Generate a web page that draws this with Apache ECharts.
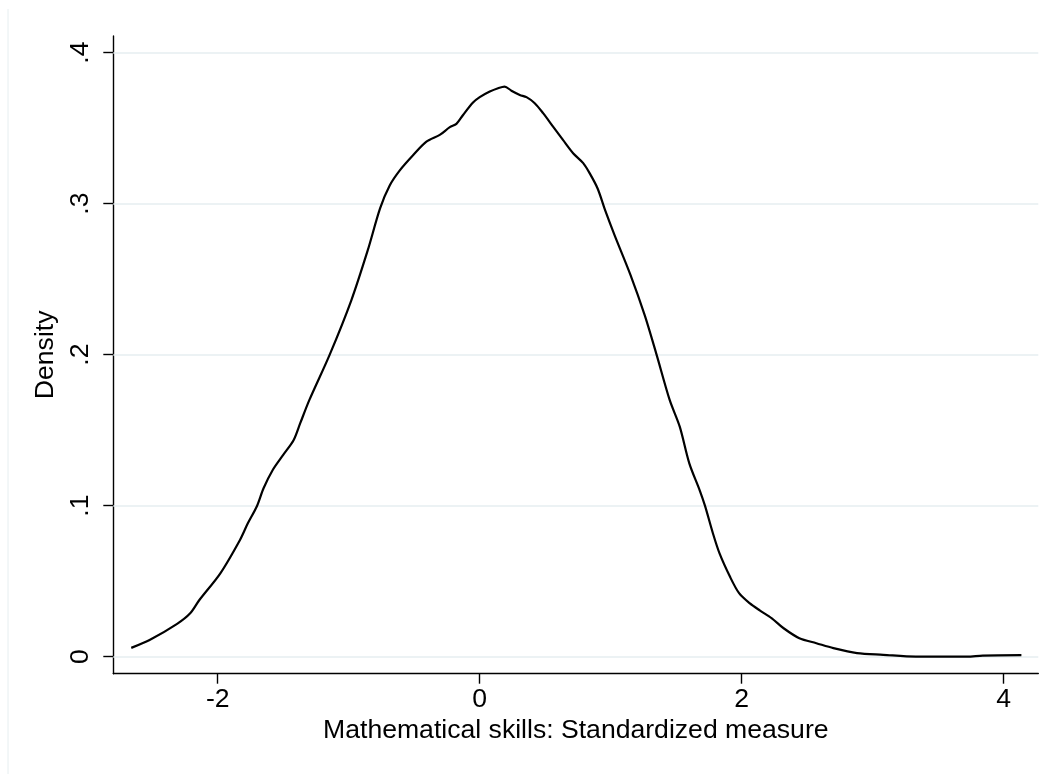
<!DOCTYPE html>
<html>
<head>
<meta charset="utf-8">
<script src="https://cdn.jsdelivr.net/npm/echarts@6/dist/echarts.min.js"></script>
<style>
html,body{margin:0;padding:0;background:#fff;}
#chart{width:1053px;height:774px;}
</style>
</head>
<body>
<div id="chart"></div>
<script>
const xValues = [-2.66,-2.52,-2.31,-2.21,-2.14,-1.98,-1.83,-1.77,-1.70,-1.65,-1.58,-1.50,-1.42,-1.37,-1.30,-1.145,-0.98,-0.855,-0.76,-0.687,-0.61,-0.509,-0.407,-0.305,-0.228,-0.178,-0.127,-0.051,0.0,0.077,0.14,0.19,0.242,0.306,0.357,0.42,0.484,0.56,0.637,0.713,0.79,0.84,0.90,0.96,1.03,1.15,1.26,1.35,1.45,1.527,1.60,1.68,1.72,1.78,1.83,1.91,1.98,2.06,2.14,2.23,2.32,2.44,2.57,2.70,2.88,3.08,3.33,3.72,3.84,4.135];
const densityValues = [0.0058,0.011,0.0217,0.0287,0.0375,0.0552,0.0773,0.0883,0.0998,0.1115,0.1236,0.1336,0.1435,0.1546,0.170,0.200,0.236,0.269,0.297,0.312,0.322,0.332,0.341,0.3455,0.3506,0.3528,0.3587,0.3669,0.3705,0.3742,0.3764,0.3775,0.3748,0.372,0.3705,0.3665,0.3599,0.351,0.342,0.3334,0.3268,0.320,0.310,0.295,0.279,0.253,0.226,0.200,0.170,0.1523,0.128,0.110,0.0998,0.0817,0.0685,0.053,0.042,0.0354,0.0305,0.0254,0.0188,0.0122,0.0089,0.0056,0.0023,0.0012,0.0,0.0,0.0007,0.001];
const xTickValues = [-2, 0, 2, 4];
const xTickLabels = ['-2', '0', '2', '4'];
const yTickValues = [0, 0.1, 0.2, 0.3, 0.4];
const yTickLabels = ['0', '.1', '.2', '.3', '.4'];
const xTitle = 'Mathematical skills: Standardized measure';
const yTitle = 'Density';

const chart = echarts.init(document.getElementById('chart'));
const FONT = 'Liberation Sans, Arial, sans-serif';
const data = xValues.map((x, i) => [x, densityValues[i]]);

chart.setOption({
  animation: false,
  backgroundColor: '#ffffff',
  grid: { left: 113.3, right: 14.7, top: 36, bottom: 100.3, containLabel: false },
  xAxis: {
    type: 'value',
    min: -2.797, max: 4.264,
    name: xTitle,
    nameLocation: 'middle',
    nameGap: 41,
    nameTextStyle: { fontFamily: FONT, fontSize: 26.6, color: '#000' },
    axisLine: { show: true, onZero: false, lineStyle: { color: '#000', width: 1.4 } },
    axisTick: { show: true, length: 10, customValues: xTickValues, lineStyle: { color: '#000', width: 1.4 } },
    axisLabel: {
      customValues: xTickValues,
      formatter: v => xTickLabels[xTickValues.indexOf(v)] ?? '',
      fontFamily: FONT, fontSize: 26.6, color: '#000', margin: 12
    },
    splitLine: { show: false }
  },
  yAxis: {
    type: 'value',
    min: -0.0113, max: 0.411,
    name: yTitle,
    nameLocation: 'middle',
    nameGap: 49,
    nameRotate: 90,
    nameTextStyle: { fontFamily: FONT, fontSize: 26.6, color: '#000' },
    axisLine: { show: true, onZero: false, lineStyle: { color: '#000', width: 1.4 } },
    axisTick: { show: true, length: 10, customValues: yTickValues, lineStyle: { color: '#000', width: 1.4 } },
    axisLabel: {
      customValues: yTickValues,
      formatter: v => { const i = yTickValues.findIndex(t => Math.abs(t - v) < 1e-9); return i >= 0 ? yTickLabels[i] : ''; },
      rotate: 90,
      fontFamily: FONT, fontSize: 26.6, color: '#000', margin: 19
    },
    splitLine: { show: false }
  },
  graphic: [{
    type: 'line',
    shape: { x1: 8, y1: 9, x2: 8, y2: 774 },
    style: { stroke: '#e6eef0', lineWidth: 1 },
    silent: true
  }],
  series: [{
    type: 'line',
    data: data,
    showSymbol: false,
    smooth: 0.3,
    lineStyle: { color: '#000', width: 2.2 },
    z: 3,
    markLine: {
      silent: true,
      symbol: ['none', 'none'],
      label: { show: false },
      lineStyle: { color: '#e6eef0', width: 1.6, type: 'solid' },
      data: yTickValues.map(v => ({ yAxis: v })),
      z: 1
    }
  }]
});
</script>
</body>
</html>
